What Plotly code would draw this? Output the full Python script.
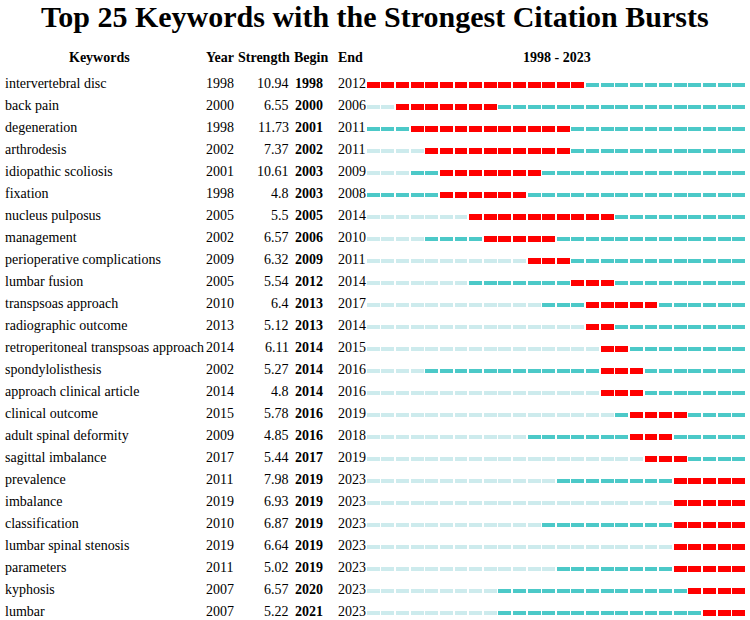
import plotly.graph_objects as go

keywords = ["intervertebral disc", "back pain", "degeneration", "arthrodesis",
            "idiopathic scoliosis", "fixation", "nucleus pulposus", "management",
            "perioperative complications", "lumbar fusion", "transpsoas approach",
            "radiographic outcome", "retroperitoneal transpsoas approach",
            "spondylolisthesis", "approach clinical article", "clinical outcome",
            "adult spinal deformity", "sagittal imbalance", "prevalence", "imbalance",
            "classification", "lumbar spinal stenosis", "parameters", "kyphosis", "lumbar"]
first_year = [1998, 2000, 1998, 2002, 2001, 1998, 2005, 2002, 2009, 2005, 2010, 2013, 2014,
              2002, 2014, 2015, 2009, 2017, 2011, 2019, 2010, 2019, 2011, 2007, 2007]
strength = ["10.94", "6.55", "11.73", "7.37", "10.61", "4.8", "5.5", "6.57", "6.32", "5.54",
            "6.4", "5.12", "6.11", "5.27", "4.8", "5.78", "4.85", "5.44", "7.98", "6.93",
            "6.87", "6.64", "5.02", "6.57", "5.22"]
begin = [1998, 2000, 2001, 2002, 2003, 2003, 2005, 2006, 2009, 2012, 2013, 2013, 2014,
         2014, 2014, 2016, 2016, 2017, 2019, 2019, 2019, 2019, 2019, 2020, 2021]
end = [2012, 2006, 2011, 2011, 2009, 2008, 2014, 2010, 2011, 2014, 2017, 2014, 2015,
       2016, 2016, 2019, 2018, 2019, 2023, 2023, 2023, 2023, 2023, 2023, 2023]
start_year, end_year = 1998, 2023
headers = ["Keywords", "Year", "Strength", "Begin", "End"]
title_text = "Top 25 Keywords with the Strongest Citation Bursts"

RED, TEAL, LIGHT = "#FF0000", "#4CC9C8", "#CDEBED"
FONT = "Liberation Serif, Times New Roman, serif"
cell = 0.88

segs = {"red": ([], [], []), "teal": ([], [], []), "light": ([], [], [])}
for i in range(len(keywords)):
    for yr in range(start_year, end_year + 1):
        if begin[i] <= yr <= end[i]:
            k = "red"
        elif yr >= first_year[i]:
            k = "teal"
        else:
            k = "light"
        segs[k][0].append(yr - cell / 2)
        segs[k][1].append(cell)
        segs[k][2].append(i)

fig = go.Figure()
for k, col, th in [("light", LIGHT, 0.14), ("teal", TEAL, 0.14), ("red", RED, 0.24)]:
    b, w, y = segs[k]
    fig.add_trace(go.Bar(orientation="h", base=b, x=w, y=y, width=[th] * len(y),
                         marker=dict(color=col, line=dict(width=0)),
                         xaxis="x", yaxis="y", showlegend=False, hoverinfo="skip"))

# invisible trace to set up the text axis
fig.add_trace(go.Scatter(x=[0, 750], y=[0, 0], mode="markers", marker=dict(opacity=0),
                         xaxis="x2", yaxis="y", showlegend=False, hoverinfo="skip"))

ann = []
fs = 14
dy = -0.06
for i in range(len(keywords)):
    y = i + dy
    ann.append(dict(x=3, y=y, text=keywords[i], xanchor="left"))
    ann.append(dict(x=204, y=y, text=str(first_year[i]), xanchor="left"))
    ann.append(dict(x=291, y=y, text=strength[i], xanchor="right"))
    ann.append(dict(x=293, y=y, text="<b>%d</b>" % begin[i], xanchor="left"))
    ann.append(dict(x=336, y=y, text=str(end[i]), xanchor="left"))
hy = -1.24
ann.append(dict(x=99, y=hy, text="<b>%s</b>" % headers[0], xanchor="center"))
ann.append(dict(x=204, y=hy, text="<b>%s</b>" % headers[1], xanchor="left"))
ann.append(dict(x=292, y=hy, text="<b>%s</b>" % headers[2], xanchor="right"))
ann.append(dict(x=292, y=hy, text="<b>%s</b>" % headers[3], xanchor="left"))
ann.append(dict(x=336, y=hy, text="<b>%s</b>" % headers[4], xanchor="left"))
ann.append(dict(x=557, y=hy, text="<b>%d - %d</b>" % (start_year, end_year), xanchor="center"))
for a in ann:
    a.update(xref="x2", yref="y", yanchor="middle", showarrow=False,
             font=dict(family=FONT, size=fs, color="#000"))

ann.append(dict(x=375, y=-3.1, xref="x2", yref="y", text="<b>%s</b>" % title_text,
                showarrow=False, xanchor="center", yanchor="middle",
                font=dict(family=FONT, size=30, color="#000")))

fig.update_layout(
    width=750, height=620, margin=dict(l=0, r=0, t=0, b=0),
    paper_bgcolor="white", plot_bgcolor="rgba(0,0,0,0)", barmode="overlay", bargap=0,
    annotations=ann,
    xaxis=dict(domain=[366 / 750, 746 / 750], range=[start_year - 0.5, end_year + 0.5],
               visible=False, fixedrange=True),
    xaxis2=dict(domain=[0, 1], range=[0, 750], visible=False, anchor="y"),
    yaxis=dict(domain=[0, 1], range=[(620 - 85) / 22, -85 / 22], visible=False),
)
fig.write_html("out.html", config={"displayModeBar": False},
               post_script="document.body.style.margin='0';")
